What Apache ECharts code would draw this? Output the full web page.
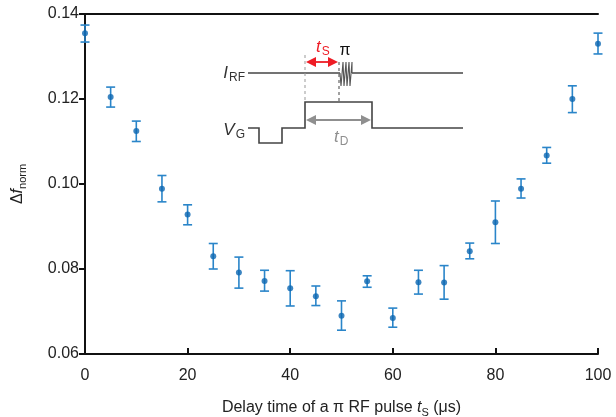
<!DOCTYPE html>
<html><head><meta charset="utf-8">
<script src="https://cdn.jsdelivr.net/npm/echarts@6/dist/echarts.min.js"></script>
<style>html,body{margin:0;padding:0;background:#fff}#c{width:616px;height:417px}</style>
</head><body><div id="c"></div>
<script>
// ---- data ----
const delay = [0,5,10,15,20,25,30,35,40,45,50,55,60,65,70,75,80,85,90,95,100];
const dfNorm = [0.1355,0.1205,0.1125,0.0989,0.0928,0.0830,0.0792,0.0772,0.0755,0.0736,0.0690,0.0771,0.0685,0.0769,0.0768,0.0842,0.0910,0.0989,0.1067,0.1200,0.1330];
const errTop = [0.1374,0.1228,0.1148,0.1020,0.0951,0.0860,0.0828,0.0797,0.0796,0.0760,0.0725,0.0784,0.0708,0.0797,0.0808,0.0861,0.0960,0.1012,0.1086,0.1231,0.1355];
const errBottom = [0.1334,0.1181,0.1100,0.0958,0.0904,0.0800,0.0755,0.0748,0.0713,0.0714,0.0656,0.0757,0.0663,0.0741,0.0729,0.0824,0.0860,0.0967,0.1049,0.1168,0.1306];
const xTicks = [0,20,40,60,80,100];
const yTicks = [0.06,0.08,0.10,0.12,0.14];

const FONT = 'Liberation Sans';
const blue = '#0b67b2';
const barBlue = '#2a85c9';
const dark = '#444';
const red = '#ee1c25';
const grey = '#8f8f8f';

const chart = echarts.init(document.getElementById('c'));

function arrowHead(x, y, dir, color) {
  return {type:'polygon', silent:true, shape:{points:[[x,y],[x-dir*10,y-5],[x-dir*10,y+5]]}, style:{fill:color}};
}
function subLabel(x, y, main, sub, color, align) {
  return {type:'text', x:x, y:y, style:{text:'{i|'+main+'}{s|'+sub+'}', align:align, verticalAlign:'middle',
    rich:{i:{fontFamily:FONT,fontSize:17,fontStyle:'italic',fill:color}, s:{fontFamily:FONT,fontSize:12,fill:color,padding:[10,0,0,1]}}}};
}

const inset = [
  {type:'polyline', shape:{points:[[248,73],[340,73]]}, style:{stroke:dark,lineWidth:1.6}},
  {type:'polyline', shape:{points:[[352,73],[463,73]]}, style:{stroke:dark,lineWidth:1.6}},
  {type:'polyline', shape:{points:[[340,73],[341,86],[343,62],[344,86],[346,62],[347,86],[349,62],[350,86],[352,62],[352,73]]}, style:{stroke:'#555',lineWidth:1.1}},
  {type:'polyline', shape:{points:[[248,128],[259,128],[259,143],[282,143],[282,128],[305,128],[305,102],[372,102],[372,128],[463,128]]}, style:{stroke:dark,lineWidth:1.6}},
  {type:'line', shape:{x1:305,y1:55,x2:305,y2:102}, style:{stroke:'#999',lineWidth:1,lineDash:[3,3]}},
  {type:'line', shape:{x1:339,y1:62,x2:339,y2:102}, style:{stroke:'#444',lineWidth:1,lineDash:[3,3]}},
  {type:'line', shape:{x1:312,y1:62,x2:332,y2:62}, style:{stroke:red,lineWidth:1.8}},
  arrowHead(306,62,-1,red),
  arrowHead(338,62,1,red),
  {type:'line', shape:{x1:314,y1:120,x2:363,y2:120}, style:{stroke:grey,lineWidth:1.8}},
  arrowHead(306,120,-1,grey),
  arrowHead(371,120,1,grey),
  subLabel(245,73,'I','RF','#333','right'),
  subLabel(245,130,'V','G','#333','right'),
  subLabel(316,47,'t','S',red,'left'),
  subLabel(334,137,'t','D',grey,'left'),
  {type:'text', x:345, y:51, style:{text:'π', align:'center', verticalAlign:'middle', fontFamily:FONT, fontSize:16, fill:'#111'}}
];

const errData = delay.map((x,i)=>[x, errBottom[i], errTop[i]]);
const nameRich = {n:{fontFamily:FONT,fontSize:16,color:'#222'}, i:{fontFamily:FONT,fontSize:16,fontStyle:'italic',color:'#222'}, s:{fontFamily:FONT,fontSize:11,color:'#222',padding:[9,0,0,0]}};

chart.setOption({
  animation:false,
  backgroundColor:'#fff',
  grid:{left:85, right:18, top:14, bottom:63, containLabel:false, outerBoundsMode:'none'},
  textStyle:{fontFamily:FONT},
  xAxis:[{
    type:'value', min:0, max:100, interval:20,
    axisLine:{lineStyle:{color:'#111', width:2}},
    axisTick:{inside:true, length:6, lineStyle:{color:'#111', width:2}},
    axisLabel:{color:'#222', fontSize:16, margin:14, fontFamily:FONT},
    splitLine:{show:false},
    name:'{n|Delay time of a π RF pulse }{i|t}{s|S}{n| (μs)}',
    nameLocation:'middle', nameGap:44,
    nameTextStyle:{rich:nameRich}
  },{
    type:'value', min:0, max:100, position:'top',
    axisLine:{show:true, lineStyle:{color:'#111', width:2}},
    axisTick:{show:false}, axisLabel:{show:false}, splitLine:{show:false}
  }],
  yAxis:[{
    type:'value', min:0.06, max:0.14, interval:0.02,
    axisLine:{show:true, lineStyle:{color:'#111', width:2}},
    axisTick:{inside:false, length:6, lineStyle:{color:'#111', width:2}},
    axisLabel:{color:'#222', fontSize:16, margin:6, fontFamily:FONT, formatter:v=>v.toFixed(2)},
    splitLine:{show:false},
    name:'{n|Δ}{i|f}{s|norm}', nameLocation:'middle', nameGap:57, nameRotate:90,
    nameTextStyle:{rich:nameRich}
  },{
    type:'value', min:0.06, max:0.14, position:'right',
    axisLine:{show:true, lineStyle:{color:'#111', width:2}},
    axisTick:{show:false}, axisLabel:{show:false}, splitLine:{show:false}
  }],
  series:[{
    type:'custom',
    data:errData,
    clip:false,
    renderItem:function(params, api){
      const x = api.value(0);
      const lo = api.coord([x, api.value(1)]);
      const hi = api.coord([x, api.value(2)]);
      const hw = 4.5;
      const st = {stroke:barBlue, lineWidth:1.6};
      return {type:'group', children:[
        {type:'line', shape:{x1:lo[0],y1:lo[1],x2:hi[0],y2:hi[1]}, style:st},
        {type:'line', shape:{x1:lo[0]-hw,y1:lo[1],x2:lo[0]+hw,y2:lo[1]}, style:st},
        {type:'line', shape:{x1:hi[0]-hw,y1:hi[1],x2:hi[0]+hw,y2:hi[1]}, style:st}
      ]};
    },
    z:2
  },{
    type:'scatter',
    data:delay.map((x,i)=>[x, dfNorm[i]]),
    symbol:'circle', symbolSize:6,
    itemStyle:{color:blue},
    clip:false,
    z:3
  }],
  graphic:inset
});
</script></body></html>
